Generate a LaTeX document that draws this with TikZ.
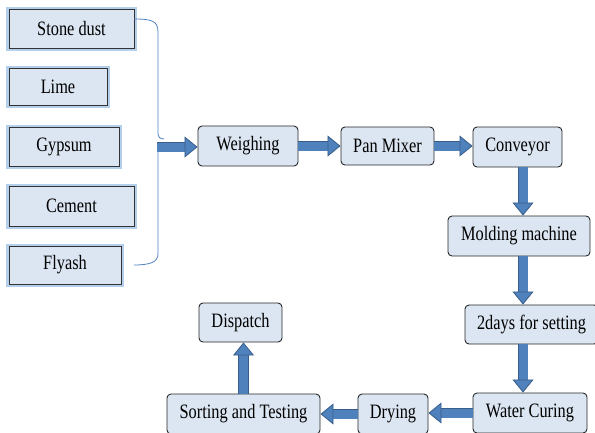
\documentclass[tikz,border=0pt]{standalone}
\usepackage{fontspec}
\setmainfont{Liberation Serif}
\usepackage{tikz}
\usetikzlibrary{arrows.meta}

\definecolor{boxfill}{HTML}{DCE6F2}
\definecolor{arrowfill}{HTML}{4F81BD}
\definecolor{arrowedge}{HTML}{385D8A}
\definecolor{glowblue}{HTML}{B4CFEC}

% narrow the printed labels
\newcommand{\narrowtext}[1]{\scalebox{0.8}[1]{#1}}

\begin{document}
\begin{tikzpicture}[x=1bp, y=-1bp,
    font=\fontsize{20.5}{24}\selectfont,
    rawbox/.style={draw=black!80, line width=0.9bp, fill=boxfill, inner sep=2bp,
      preaction={draw=glowblue, line width=5bp}},
    stagebox/.style={draw=black!85, line width=0.9bp, fill=boxfill, rounded corners=4bp,
      inner sep=2bp, minimum height=40bp},
    flow/.style={draw=arrowfill, line width=9bp,
      -{Triangle[width=21bp, length=13bp, line width=0.8bp, color=arrowedge, fill=arrowfill]},
      preaction={draw=arrowedge, line width=10.6bp, -, shorten >=11bp}}]
      \useasboundingbox (0,0) rectangle (595,432);

      % raw materials
      \node[rawbox, minimum width=125bp, minimum height=39bp] (stone) at (71.5,28.5) {\narrowtext{Stone dust}};
      \node[rawbox, minimum width=98bp, minimum height=37bp] (lime) at (58,86.5) {\narrowtext{Lime}};
      \node[rawbox, minimum width=110bp, minimum height=39bp] (gypsum) at (64,146.5) {\narrowtext{Gypsum}};
      \node[rawbox, minimum width=125bp, minimum height=40bp] (cement) at (71.5,206) {\narrowtext{Cement}};
      \node[rawbox, minimum width=112bp, minimum height=38bp] (flyash) at (65,265) {\narrowtext{Flyash}};

      % brace
      \draw[arrowfill, line width=0.8bp] (134,19) .. controls (152,19) and (158,21) .. (158,32)
        -- (158,133) .. controls (158,137) and (160,139) .. (164,139);
      \draw[arrowfill, line width=0.8bp] (158,150) -- (158,254)
        .. controls (158,262) and (150,265) .. (134,265);
      \coordinate (join) at (157,147);

      % process stages
      \node[stagebox, minimum width=100bp] (weigh) at (248,146) {\narrowtext{Weighing}};
      \node[stagebox, minimum width=93bp, minimum height=38bp] (panmix) at (387.5,146) {\narrowtext{Pan Mixer}};
      \node[stagebox, minimum width=89bp] (conv) at (517.5,147) {\narrowtext{Conveyor}};
      \node[stagebox, minimum width=142bp] (mold) at (519,236) {\narrowtext{Molding machine}};
      \node[stagebox, minimum width=133bp, minimum height=39bp] (setting) at (531.5,324.5) {\narrowtext{2days for setting}};
      \node[stagebox, minimum width=114bp] (water) at (530,413) {\narrowtext{Water Curing}};
      \node[stagebox, minimum width=70bp] (drying) at (393,414) {\narrowtext{Drying}};
      \node[stagebox, minimum width=153bp] (sort) at (243.5,414) {\narrowtext{Sorting and Testing}};
      \node[stagebox, minimum width=83bp, minimum height=39bp] (dispatch) at (240.5,322.5) {\narrowtext{Dispatch}};

      % flow arrows
      \draw[flow] (join) -- (join -| weigh.west);
      \draw[flow] (weigh.east) -- (weigh.east -| panmix.west);
      \draw[flow] (panmix.east) -- (panmix.east -| conv.west);
      \draw[flow] ([xshift=5.5bp]conv.south) -- ([xshift=5.5bp]conv.south |- mold.north);
      \draw[flow] ([xshift=4bp]mold.south) -- ([xshift=4bp]mold.south |- setting.north);
      \draw[flow] ([xshift=-8.5bp]setting.south) -- ([xshift=-8.5bp]setting.south |- water.north);
      \draw[flow] (water.west) -- (water.west -| drying.east);
      \draw[flow] (drying.west) -- (drying.west -| sort.east);
      \draw[flow] (sort.north) -- (sort.north |- dispatch.south);
    \end{tikzpicture}
\end{document}
